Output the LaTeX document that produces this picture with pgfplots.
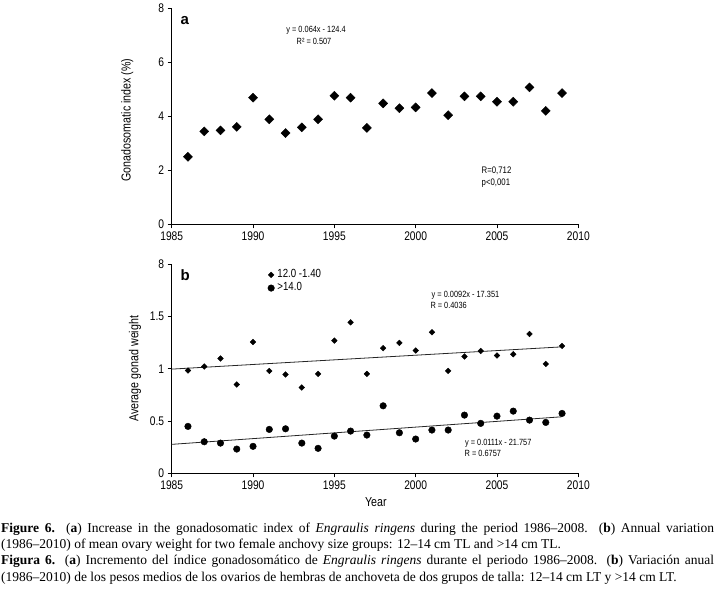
\documentclass[border=0pt]{standalone}
\usepackage{fontspec}
\setmainfont{Liberation Serif}
\newfontfamily\nar[FakeStretch=0.82]{Liberation Sans}
\newfontfamily\sfn{Liberation Sans}
\usepackage{pgfplots}
\pgfplotsset{compat=1.18}
\pgfplotsset{
  common/.style={
    scale only axis, width=406.6bp,
    axis lines=left, axis line style={-, line width=0.9bp},
    tick align=outside, major tick length=4bp,
    tick style={line width=0.9bp, black},
    xmin=1985, xmax=2010, enlargelimits=false, clip=false,
    xtick={1985,1990,1995,2000,2005,2010},
    /pgf/number format/assume math mode=true,
    /pgf/number format/set thousands separator={},
    tick label style={font=\nar\fontsize{12.5bp}{12.5bp}\selectfont},
  },
}
\begin{document}
\begin{tikzpicture}
\path[use as bounding box] (0,0) rectangle (715bp,-596bp);
% ---------- panel a ----------
\begin{axis}[common,
  at={(171.7bp,-224.3bp)}, anchor=south west,
  height=216bp, ymin=0, ymax=8, ytick={0,2,4,6,8},
  ylabel={Gonadosomatic index (\%)},
  every axis y label/.style={at={(axis description cs:-0.109,0.483)}, rotate=90, anchor=center,
    font=\nar\fontsize{13bp}{13bp}\selectfont},
]
\addplot[only marks, mark=square*, mark size=3.2bp, mark options={rotate=45, fill=black, draw=black}]
coordinates {
(1986,2.50) (1987,3.44) (1988,3.48) (1989,3.61) (1990,4.69) (1991,3.89)
(1992,3.38) (1993,3.59) (1994,3.89) (1995,4.76) (1996,4.69) (1997,3.57)
(1998,4.48) (1999,4.30) (2000,4.33) (2001,4.86) (2002,4.04) (2003,4.74)
(2004,4.74) (2005,4.54) (2006,4.54) (2007,5.07) (2008,4.20) (2009,4.86)
};
\node[font=\sfn\bfseries\fontsize{15bp}{15bp}\selectfont] at (axis description cs:0.032,0.942) {a};
\node[font=\nar\fontsize{9bp}{9bp}\selectfont] at (axis description cs:0.355,0.899) {y = 0.064x - 124.4};
\node[font=\nar\fontsize{9bp}{9bp}\selectfont] at (axis description cs:0.350,0.845) {R² = 0.507};
\node[font=\nar\fontsize{9.5bp}{9.5bp}\selectfont, anchor=west, inner sep=0pt] at (axis description cs:0.762,0.247) {R=0,712};
\node[font=\nar\fontsize{9.5bp}{9.5bp}\selectfont, anchor=west, inner sep=0pt] at (axis description cs:0.762,0.190) {p<0,001};
\end{axis}
% ---------- panel b ----------
\begin{axis}[common,
  at={(171.7bp,-473.3bp)}, anchor=south west,
  height=209bp, ymin=0, ymax=2, ytick={0,0.5,1,1.5,2},
  yticklabels={0,0.5,1,1.5,8},
  ylabel={Average gonad  weight}, xlabel={Year},
  every axis y label/.style={at={(axis description cs:-0.090,0.5)}, rotate=90, anchor=center,
    font=\nar\fontsize{13bp}{13bp}\selectfont},
  every axis x label/.style={at={(axis description cs:0.502,-0.140)}, anchor=center,
    font=\nar\fontsize{13bp}{13bp}\selectfont},
  legend style={draw=none, fill=none, at={(axis description cs:0.236,0.982)}, anchor=north west,
    font=\nar\fontsize{11.8bp}{11.8bp}\selectfont, inner sep=0pt, row sep=0pt,
    nodes={inner sep=0pt, outer sep=0pt, text height=9.3bp, text depth=3.9bp}},
  /tikz/every odd column/.append style={column sep=3bp},
  legend cell align=left,
  legend image code/.code={\draw[#1] plot coordinates {(0bp,0bp)};},
]
\addplot[only marks, mark=square*, mark size=2.0bp, mark options={rotate=45, fill=black, draw=black}]
coordinates {
(1986,0.984) (1987,1.022) (1988,1.098) (1989,0.850) (1990,1.257) (1991,0.980)
(1992,0.946) (1993,0.821) (1994,0.951) (1995,1.270) (1996,1.445) (1997,0.951)
(1998,1.197) (1999,1.248) (2000,1.175) (2001,1.350) (2002,0.980) (2003,1.118)
(2004,1.171) (2005,1.127) (2006,1.140) (2007,1.334) (2008,1.047) (2009,1.219)
};
\addplot[only marks, mark=*, mark size=3.3bp, mark options={fill=black, draw=black}]
coordinates {
(1986,0.449) (1987,0.302) (1988,0.289) (1989,0.232) (1990,0.258) (1991,0.420)
(1992,0.426) (1993,0.289) (1994,0.239) (1995,0.356) (1996,0.404) (1997,0.366)
(1998,0.646) (1999,0.388) (2000,0.328) (2001,0.414) (2002,0.414) (2003,0.557)
(2004,0.478) (2005,0.547) (2006,0.595) (2007,0.509) (2008,0.487) (2009,0.573)
};
\legend{12.0 -1.40, >14.0}
\addplot[black!85, line width=0.8bp] coordinates {(1985,0.997) (2009,1.210)};
\addplot[black!85, line width=0.8bp] coordinates {(1985,0.277) (2009,0.541)};
\node[font=\sfn\bfseries\fontsize{15bp}{15bp}\selectfont] at (axis description cs:0.033,0.950) {b};
\node[font=\nar\fontsize{9bp}{9bp}\selectfont, anchor=west, inner sep=0pt] at (axis description cs:0.639,0.853) {y = 0.0092x - 17.351};
\node[font=\nar\fontsize{9bp}{9bp}\selectfont, anchor=west, inner sep=0pt] at (axis description cs:0.636,0.805) {R = 0.4036};
\node[font=\nar\fontsize{9bp}{9bp}\selectfont, anchor=west, inner sep=0pt] at (axis description cs:0.721,0.146) {y = 0.0111x - 21.757};
\node[font=\nar\fontsize{9bp}{9bp}\selectfont, anchor=west, inner sep=0pt] at (axis description cs:0.720,0.096) {R = 0.6757};
\end{axis}
% ---------- caption ----------
\node[anchor=north west, inner sep=0pt, text width=713bp, align=justify,
  font=\fontsize{13.5bp}{16.3bp}\selectfont] at (1bp,-522.5bp) {%
\textbf{Figure 6.} (\textbf{a}) Increase in the gonadosomatic index of \textit{Engraulis ringens} during the period 1986–2008. (\textbf{b}) Annual variation\linebreak
(1986–2010) of mean ovary weight for two female anchovy size groups: 12–14 cm TL and >14 cm TL.\par
\textbf{Figura 6.} (\textbf{a}) Incremento del índice gonadosomático de \textit{Engraulis ringens} durante el periodo 1986–2008. (\textbf{b}) Variación anual\linebreak
(1986–2010) de los pesos medios de los ovarios de hembras de anchoveta de dos grupos de talla: 12–14 cm LT y >14 cm LT.};
\end{tikzpicture}
\end{document}
